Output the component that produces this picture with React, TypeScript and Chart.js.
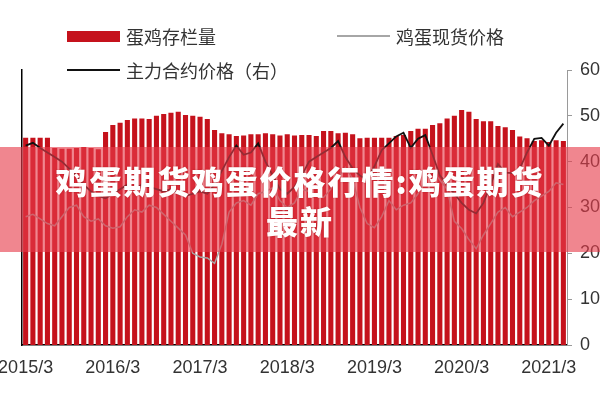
import React, { useEffect, useRef } from "react";
import { Chart, registerables } from "chart.js";

Chart.register(...registerables);

// 2015/3 .. 2021/5 monthly
const startYear = 2015;
const startMonth = 3;
const monthCount = 75;
const months: string[] = [];
for (let i = 0; i < monthCount; i++) {
  const t = startMonth - 1 + i;
  months.push(`${startYear + Math.floor(t / 12)}/${(t % 12) + 1}`);
}

// 蛋鸡存栏量 (left axis, hidden)
const layerStock = [
  45.2, 45.2, 45.2, 45.2, 43.0, 42.8, 42.8, 43.0, 43.2, 43.0, 42.7, 46.5,
  48.0, 48.5, 49.1, 49.4, 49.4, 49.3, 50.0, 50.4, 50.7, 50.9, 50.2, 50.0,
  49.8, 49.3, 46.9, 46.2, 46.0, 45.6, 45.7, 46.0, 46.0, 46.2, 46.0, 45.7,
  46.0, 45.7, 45.8, 45.8, 45.6, 46.7, 46.7, 46.2, 46.3, 46.0, 45.1, 45.2,
  45.2, 45.2, 45.2, 45.6, 45.8, 46.7, 47.2, 47.2, 48.0, 48.4, 49.4, 50.0,
  51.3, 50.9, 49.3, 48.8, 48.8, 47.8, 47.5, 46.9, 45.5, 45.1, 44.5, 44.7,
  44.3, 44.7, 44.5,
];

// 鸡蛋现货价格 (right axis)
const spotPrice = [
  28.0, 28.5, 27.5, 26.5, 26.0, 28.0, 30.0, 30.5, 28.0, 27.0, 27.5, 26.0,
  25.5, 25.8, 28.0, 29.5, 29.0, 30.5, 30.0, 28.5, 27.0, 25.5, 24.0, 20.0,
  19.2, 19.0, 17.8, 22.0, 29.0, 31.0, 31.5, 30.5, 33.0, 33.5, 34.3, 31.5,
  30.0, 31.0, 34.0, 33.5, 32.5, 32.2, 34.0, 36.5, 38.7, 36.3, 30.0, 26.5,
  25.6, 28.0, 31.5, 29.5, 30.5, 31.0, 33.0, 36.0, 38.0, 36.0, 34.0, 27.0,
  25.4, 23.0, 21.0, 24.0, 26.5, 29.0, 30.0, 28.0, 29.0, 30.0, 31.5, 32.5,
  33.5, 35.4, 35.0,
];

// 主力合约价格（右）
const futuresPrice = [
  43.5, 44.1, 43.0, 42.0, 41.0, 40.0, 38.5, 37.0, 35.0, 33.5, 32.5, 32.0,
  33.0, 34.0, 35.0, 34.0, 35.0, 34.5, 34.0, 33.5, 34.0, 33.0, 32.5, 33.0,
  33.5, 33.0, 35.0, 38.0, 41.0, 43.5, 41.5, 42.0, 44.0, 40.0, 37.0, 34.0,
  33.0, 34.5, 37.0, 40.0, 41.0, 42.0, 43.0, 44.5, 41.0, 38.5, 37.0, 36.0,
  39.0, 42.5, 44.0, 45.5, 46.3, 43.0, 45.0, 45.8, 41.5, 37.0, 35.0, 33.0,
  31.0, 29.5, 28.7, 31.0, 35.0, 39.5, 37.6, 37.5, 38.5, 42.0, 45.0, 45.2,
  43.5, 46.3, 48.3,
];

const rightTicks = [0, 10, 20, 30, 40, 50, 60];

const FONT = "'Liberation Sans', 'Noto Sans CJK SC', sans-serif";
const CJK = "'Noto Sans CJK SC', sans-serif";

export default function App() {
  const ref = useRef<HTMLCanvasElement | null>(null);

  useEffect(() => {
    document.body.style.margin = "0";
    const canvas = ref.current;
    if (!canvas) return;
    const chart = new Chart(canvas, {
      type: "bar",
      data: {
        labels: months,
        datasets: [
          {
            type: "bar",
            label: "蛋鸡存栏量",
            data: layerStock,
            backgroundColor: "#c5121c",
            borderWidth: 0,
            barPercentage: 0.7,
            categoryPercentage: 1,
            yAxisID: "y",
            order: 3,
          },
          {
            type: "line",
            label: "鸡蛋现货价格",
            data: spotPrice,
            borderColor: "#a6a6a6",
            borderWidth: 1.5,
            pointRadius: 0,
            tension: 0,
            yAxisID: "y1",
            order: 2,
          },
          {
            type: "line",
            label: "主力合约价格（右）",
            data: futuresPrice,
            borderColor: "#111111",
            borderWidth: 1.8,
            pointRadius: 0,
            tension: 0,
            yAxisID: "y1",
            order: 1,
          },
        ],
      },
      options: {
        responsive: false,
        animation: false,
        layout: { padding: { top: 70, left: 0, right: 0, bottom: 0 } },
        plugins: {
          legend: { display: false },
          tooltip: { enabled: false },
        },
        scales: {
          x: {
            grid: { display: false },
            border: { display: true, color: "#000", width: 1.5 },
            ticks: {
              autoSkip: false,
              maxRotation: 0,
              padding: 4,
              color: "#333",
              font: { family: FONT, size: 18 },
              callback: (_v: any, i: number) =>
                months[i].endsWith("/3") ? months[i] : "",
            },
            afterFit: (s: any) => {
              s.height = 55;
              s.paddingLeft = 0;
              s.paddingRight = 0;
            },
          },
          y: {
            position: "left",
            min: 0,
            max: 60,
            grid: { display: false },
            border: { display: true, color: "#000", width: 1.5 },
            ticks: { display: false },
            afterFit: (s: any) => {
              s.width = 22;
            },
          },
          y1: {
            position: "right",
            min: 0,
            max: 60,
            afterBuildTicks: (s: any) => {
              s.ticks = rightTicks.map((v) => ({ value: v }));
            },
            grid: {
              drawOnChartArea: false,
              tickLength: 5,
              color: "#9a9a9a",
            },
            border: { display: true, color: "#9a9a9a", width: 1 },
            ticks: {
              padding: 8,
              color: "#333",
              font: { family: FONT, size: 18 },
            },
            afterFit: (s: any) => {
              s.width = 33;
            },
          },
        },
      },
    });
    return () => chart.destroy();
  }, []);

  const legendText: React.CSSProperties = {
    position: "absolute",
    fontFamily: CJK,
    fontSize: 18,
    color: "#333",
    lineHeight: "20px",
    whiteSpace: "nowrap",
  };

  return (
    <div
      style={{
        position: "fixed",
        left: 0,
        top: 0,
        width: 600,
        height: 400,
        background: "#fff",
        overflow: "hidden",
      }}
    >
      <canvas ref={ref} width={600} height={400} style={{ display: "block" }} />
      {/* legend */}
      <div style={{ position: "absolute", left: 67, top: 31, width: 53, height: 11, background: "#c5121c" }} />
      <div style={{ ...legendText, left: 126, top: 26 }}>蛋鸡存栏量</div>
      <div style={{ position: "absolute", left: 337, top: 35, width: 53, height: 2, background: "#a6a6a6" }} />
      <div style={{ ...legendText, left: 396, top: 26 }}>鸡蛋现货价格</div>
      <div style={{ position: "absolute", left: 67, top: 69, width: 53, height: 2, background: "#111" }} />
      <div style={{ ...legendText, left: 126, top: 60 }}>主力合约价格（右）</div>
      {/* banner */}
      <div
        style={{
          position: "absolute",
          left: 0,
          top: 147,
          width: 600,
          height: 105,
          background: "rgba(230, 60, 75, 0.62)",
          display: "flex",
          flexDirection: "column",
          alignItems: "center",
          justifyContent: "center",
          color: "#fff",
          fontFamily: CJK,
          fontWeight: 900,
          fontSize: 32,
          lineHeight: "40px",
          textAlign: "center",
          letterSpacing: 2,
          textShadow: "0 0 2px rgba(120,0,0,0.4)",
        }}
      >
        <div>鸡蛋期货鸡蛋价格行情:鸡蛋期货</div>
        <div>最新</div>
      </div>
    </div>
  );
}
